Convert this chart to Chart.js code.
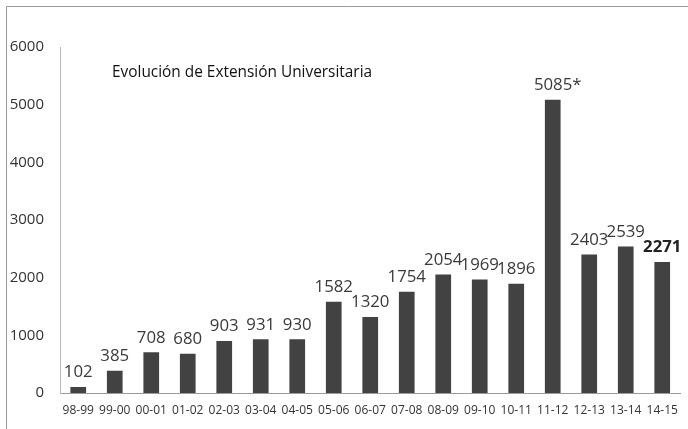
<!DOCTYPE html>
<html>
<head>
<meta charset="utf-8">
<script src="https://cdn.jsdelivr.net/npm/chart.js@4"></script>
<style>
  body { margin: 0; background: #fff; }
  #wrap { width: 688px; height: 429px; position: relative; }
</style>
</head>
<body>
<div id="wrap"><canvas id="myChart" width="688" height="429"></canvas></div>
<script>
// data
const years = ["98-99","99-00","00-01","01-02","02-03","03-04","04-05","05-06","06-07","07-08","08-09","09-10","10-11","11-12","12-13","13-14","14-15"];
const alumnos = [102,385,708,680,903,931,930,1582,1320,1754,2054,1969,1896,5085,2403,2539,2271];
const valueLabels = ["102","385","708","680","903","931","930","1582","1320","1754","2054","1969","1896","5085*","2403","2539","2271"];
const yTicks = [0,1000,2000,3000,4000,5000,6000];
const titleText = "Evolución de Extensión Universitaria";

// labels over bars + frame + title
const extras = {
  id: 'extras',
  afterDraw(chart) {
    const c = chart.ctx;
    c.save();
    // scan frame
    c.strokeStyle = '#9a9a9a';
    c.lineWidth = 1;
    c.beginPath();
    c.moveTo(6.5, 429);
    c.lineTo(6.5, 6.5);
    c.lineTo(688, 6.5);
    c.stroke();

    // title
    c.fillStyle = '#111';
    c.font = '15.4px "Open Sans"';
    c.textAlign = 'left';
    c.textBaseline = 'middle';
    c.fillText(titleText, 112, 73);

    // value labels
    const meta = chart.getDatasetMeta(0);
    c.textAlign = 'center';
    c.textBaseline = 'bottom';
    meta.data.forEach(function(bar, i) {
      const last = i === meta.data.length - 1;
      c.font = (last ? 'bold ' : '') + '16.8px "Open Sans"';
      c.fillStyle = last ? '#222' : '#3a3a3a';
      c.fillText(valueLabels[i], bar.x + (i == 13 ? 5 : 0), bar.y - 6);
    });
    c.restore();
  }
};

const ctx = document.getElementById('myChart');

new Chart(ctx, {
  type: 'bar',
  data: {
    labels: years,
    datasets: [{
      data: alumnos,
      backgroundColor: '#424242',
      barPercentage: 0.43,
      categoryPercentage: 1
    }]
  },
  options: {
    responsive: false,
    animation: false,
    layout: { padding: { top: 47, right: 4, left: 0, bottom: 0 } },
    plugins: {
      legend: { display: false },
      tooltip: { enabled: false }
    },
    scales: {
      x: {
        grid: { display: false, drawTicks: false },
        border: { color: '#9a9aa6', width: 1 },
        ticks: {
          color: '#333',
          font: { family: 'Open Sans', size: 12 },
          padding: 10,
          maxRotation: 0,
          autoSkip: false
        },
        afterFit: function(s) { s.height = 36; }
      },
      y: {
        min: 0,
        max: 6000,
        afterBuildTicks: function(s) { s.ticks = yTicks.map(v => ({ value: v })); },
        grid: { display: false, drawTicks: false },
        border: { color: '#b8b8b8', width: 1 },
        ticks: {
          color: '#333',
          font: { family: 'Open Sans', size: 15 },
          padding: 16,
          callback: function(v) { return String(v); }
        },
        afterFit: function(s) { s.width = 60; }
      }
    }
  },
  plugins: [extras]
});
</script>
</body>
</html>
